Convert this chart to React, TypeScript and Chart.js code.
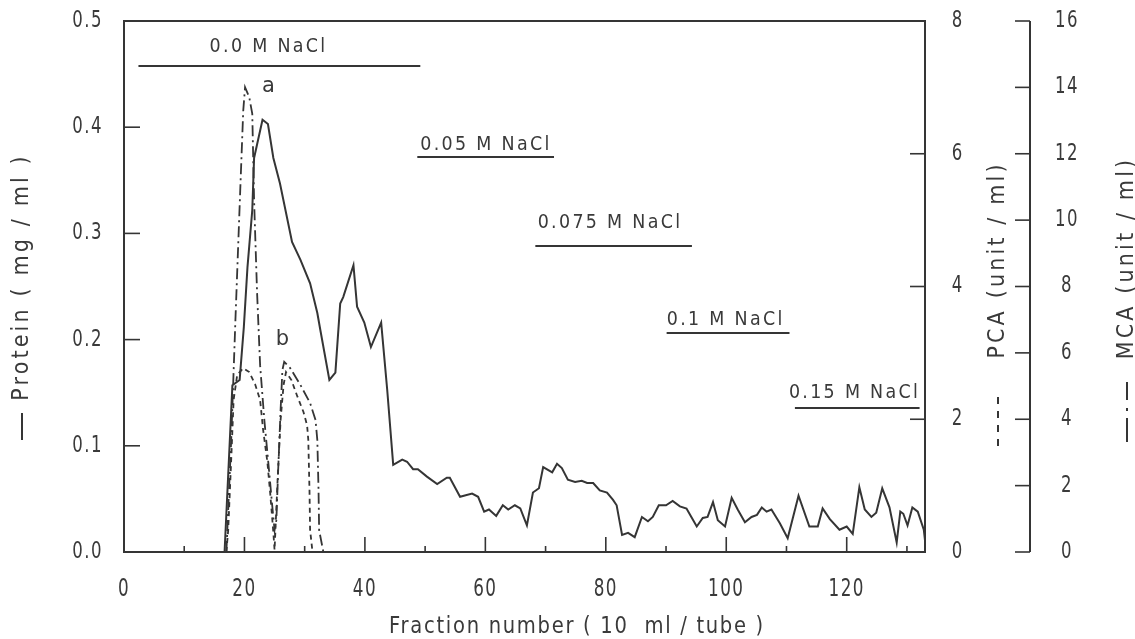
import React, { useEffect, useRef } from "react";
import { Chart, registerables } from "chart.js";

Chart.register(...registerables);

// ---------- data ----------
const proteinFraction = [
  16.7, 18.0, 19.2, 19.9, 20.5, 21.3, 21.6, 23.0, 23.9, 24.8,
  25.9, 27.9, 29.3, 30.9, 32.1, 32.6, 34.1, 35.1, 35.9, 36.4,
  38.1, 38.7, 39.9, 41.0, 42.7, 43.7, 44.7, 46.2, 47.0, 48.0,
  48.8, 50.3, 52.0, 53.6, 54.1, 55.8, 57.8, 58.8, 59.8, 60.6,
  61.8, 62.9, 63.8, 64.9, 65.8, 66.9, 67.9, 68.9, 69.6, 71.1,
  71.9, 72.7, 73.7, 74.9, 76.0, 76.9, 77.9, 79.0, 80.2, 81.2,
  81.8, 82.7, 83.7, 84.8, 86.0, 87.0, 87.8, 88.8, 90.0, 91.1,
  92.3, 93.4, 94.3, 95.1, 96.1, 96.9, 97.8, 98.6, 99.8, 100.9,
  101.9, 103.1, 104.2, 105.1, 105.9, 106.7, 107.5, 108.9, 110.2, 112.0,
  113.8, 115.2, 116.0, 117.2, 118.8, 120.0, 121.0, 122.1, 123.0, 124.1,
  124.9, 125.9, 127.1, 128.3, 128.9, 129.4, 130.1, 130.9, 131.8, 132.8,
  133.0,
];
const proteinValue = [
  0, 0.157, 0.162, 0.212, 0.268, 0.322, 0.371, 0.407, 0.403, 0.371,
  0.347, 0.292, 0.275, 0.253, 0.225, 0.209, 0.162, 0.169, 0.234, 0.240,
  0.270, 0.231, 0.216, 0.193, 0.216, 0.153, 0.082, 0.087, 0.085, 0.078,
  0.078, 0.071, 0.064, 0.070, 0.070, 0.052, 0.055, 0.052, 0.038, 0.040,
  0.034, 0.044, 0.040, 0.044, 0.041, 0.025, 0.056, 0.060, 0.080, 0.075,
  0.083, 0.079, 0.068, 0.066, 0.067, 0.065, 0.065, 0.058, 0.056, 0.049,
  0.044, 0.016, 0.018, 0.014, 0.033, 0.029, 0.033, 0.044, 0.044, 0.048,
  0.043, 0.041, 0.032, 0.024, 0.032, 0.033, 0.047, 0.030, 0.024, 0.051,
  0.040, 0.028, 0.033, 0.035, 0.042, 0.038, 0.040, 0.027, 0.013, 0.053,
  0.024, 0.024, 0.041, 0.031, 0.021, 0.024, 0.017, 0.061, 0.040, 0.033,
  0.037, 0.060, 0.042, 0.009, 0.038, 0.036, 0.025, 0.042, 0.038, 0.021,
  0.011,
];

const pcaFraction = [
  17.0, 17.3, 17.8, 18.2, 18.8, 19.8, 20.8, 21.8, 22.6, 23.1,
  23.8, 24.3, 24.8, 25.0, 25.5, 26.0, 26.5, 26.9, 27.8, 28.8,
  29.8, 30.4, 30.6, 30.8, 30.9, 31.3,
];
const pcaValue = [
  0, 0.33, 1.39, 2.29, 2.67, 2.77, 2.71, 2.52, 2.29, 1.84,
  1.36, 0.86, 0.29, 0.03, 1.08, 1.99, 2.52, 2.71, 2.59, 2.34,
  2.11, 1.91, 1.69, 0.93, 0.33, 0,
];

const mcaFraction = [
  17.0, 17.8, 18.5, 19.3, 19.8, 20.1, 20.8, 21.3, 21.6, 22.1,
  22.6, 23.3, 24.0, 24.6, 25.0, 25.3, 25.6, 26.0, 26.3, 26.6,
  27.6, 29.3, 30.9, 31.8, 32.1, 32.3, 32.4, 33.1,
];
const mcaValue = [
  0, 3.37, 6.99, 10.9, 13.3, 14.0, 13.7, 13.2, 10.6, 7.8,
  5.63, 3.98, 2.62, 1.42, 0.66, 0.96, 2.47, 4.28, 5.48, 5.73,
  5.54, 5.03, 4.49, 3.98, 3.37, 1.87, 0.66, 0,
];

const xTickValues = [0, 20, 40, 60, 80, 100, 120];
const xMinorTicks = [10, 20, 30, 40, 50, 60, 70, 80, 90, 100, 110, 120, 130];
const proteinTicks = [0, 0.1, 0.2, 0.3, 0.4, 0.5];
const pcaTicks = [0, 2, 4, 6, 8];
const mcaTicks = [0, 2, 4, 6, 8, 10, 12, 14, 16];

// NaCl step gradient annotations (fraction range, level on the protein scale)
const saltNames = ["0.0 M NaCl", "0.05 M NaCl", "0.075 M NaCl", "0.1 M NaCl", "0.15 M NaCl"];
const saltStart = [2.4, 48.7, 68.3, 90.1, 111.4];
const saltEnd = [49.2, 71.4, 94.3, 110.5, 132.1];
const saltLevel = [0.4576, 0.3719, 0.2881, 0.2062, 0.1356];
const saltLabelFraction = [24.0, 60.1, 80.7, 99.9, 121.3];
const saltLabelLevel = [0.4755, 0.3832, 0.3098, 0.2185, 0.1497];

const peakNames = ["a", "b"];
const peakFraction = [24.0, 26.3];
const peakLevel = [0.438, 0.1996];

// ---------- styling ----------
const INK = "#353535";
const TEXT = "#3a3a3a";
const FONT = '"DejaVu Sans", sans-serif';

type TextOpts = { size: number; sx?: number; spacing?: number; align?: CanvasTextAlign; rotate?: number };

function drawText(ctx: CanvasRenderingContext2D, text: string, x: number, y: number, o: TextOpts) {
  ctx.save();
  ctx.translate(x, y);
  if (o.rotate) ctx.rotate(o.rotate);
  ctx.scale(o.sx ?? 1, 1);
  ctx.font = `${o.size}px ${FONT}`;
  (ctx as any).letterSpacing = `${o.spacing ?? 0}px`;
  ctx.textAlign = o.align ?? "center";
  ctx.textBaseline = "middle";
  ctx.fillStyle = TEXT;
  ctx.fillText(text, 0, 0);
  ctx.restore();
}

function seg(ctx: CanvasRenderingContext2D, x1: number, y1: number, x2: number, y2: number) {
  ctx.beginPath();
  ctx.moveTo(x1, y1);
  ctx.lineTo(x2, y2);
  ctx.stroke();
}

const decorPlugin = {
  id: "decor",
  afterDraw(chart: any) {
    const ctx: CanvasRenderingContext2D = chart.ctx;
    const { left, right, top, bottom } = chart.chartArea;
    const sx = chart.scales.x;
    const sy = chart.scales.y;
    const sy1 = chart.scales.y1;
    const sy2 = chart.scales.y2;
    ctx.save();
    ctx.strokeStyle = INK;
    ctx.lineWidth = 2;
    ctx.lineCap = "butt";
    ctx.strokeRect(left, top, right - left, bottom - top);

    // x ticks (inside)
    ctx.lineWidth = 1.6;
    xMinorTicks.forEach((v) => {
      const px = sx.getPixelForValue(v);
      const len = v % 20 === 0 ? 15 : 6;
      seg(ctx, px, bottom, px, bottom - len);
    });
    // left ticks
    proteinTicks.forEach((v) => {
      if (v === 0 || v === 0.5) return;
      const py = sy.getPixelForValue(v);
      seg(ctx, left, py, left + 16, py);
    });
    // PCA ticks on right border
    pcaTicks.forEach((v) => {
      if (v === 0 || v === 8) return;
      const py = sy1.getPixelForValue(v);
      seg(ctx, right, py, right - 15, py);
    });
    // MCA separate axis
    const mx = 1030;
    ctx.lineWidth = 2;
    seg(ctx, mx, sy2.getPixelForValue(16), mx, sy2.getPixelForValue(0));
    ctx.lineWidth = 1.6;
    mcaTicks.forEach((v) => {
      const py = sy2.getPixelForValue(v);
      seg(ctx, mx - 15, py, mx, py);
    });

    // tick labels
    xTickValues.forEach((v) => {
      drawText(ctx, String(v), sx.getPixelForValue(v), 590, { size: 24, sx: 0.7, spacing: 2 });
    });
    proteinTicks.forEach((v) => {
      drawText(ctx, v.toFixed(1), 103, sy.getPixelForValue(v), { size: 23, sx: 0.72, spacing: 2, align: "right" });
    });
    pcaTicks.forEach((v) => {
      drawText(ctx, String(v), 957, sy1.getPixelForValue(v), { size: 23, sx: 0.72 });
    });
    mcaTicks.forEach((v) => {
      drawText(ctx, String(v), 1067, sy2.getPixelForValue(v), { size: 23, sx: 0.72, spacing: 2 });
    });

    // axis titles
    drawText(ctx, "Fraction number ( 10  ml / tube )", 577, 627, { size: 23, sx: 0.85, spacing: 2 });
    drawText(ctx, "Protein ( mg / ml )", 22, 277, { size: 23, sx: 0.9, spacing: 3.5, rotate: -Math.PI / 2 });
    ctx.lineWidth = 2;
    seg(ctx, 22, 413, 22, 440);
    drawText(ctx, "PCA (unit / ml)", 998, 260, { size: 23, sx: 0.9, spacing: 3.5, rotate: -Math.PI / 2 });
    ctx.setLineDash([7, 7]);
    seg(ctx, 998, 397, 998, 446);
    drawText(ctx, "MCA (unit / ml)", 1127, 258, { size: 23, sx: 0.9, spacing: 3.5, rotate: -Math.PI / 2 });
    ctx.setLineDash([]);
    seg(ctx, 1127, 382, 1127, 400);
    seg(ctx, 1127, 408, 1127, 411);
    seg(ctx, 1127, 418, 1127, 442);

    // annotations
    saltNames.forEach((name, i) => {
      drawText(ctx, name, sx.getPixelForValue(saltLabelFraction[i]), sy.getPixelForValue(saltLabelLevel[i]), {
        size: 19,
        sx: 0.92,
        spacing: 2.5,
      });
    });
    peakNames.forEach((name, i) => {
      drawText(ctx, name, sx.getPixelForValue(peakFraction[i]), sy.getPixelForValue(peakLevel[i]), { size: 21 });
    });
    ctx.restore();
  },
};

export default function App() {
  const ref = useRef<HTMLCanvasElement | null>(null);
  useEffect(() => {
    if (!ref.current) return;
    const toPts = (xs: number[], ys: number[]) => xs.map((x, i) => ({ x, y: ys[i] }));
    const saltSets = saltNames.map((name, i) => ({
      label: name,
      data: [
        { x: saltStart[i], y: saltLevel[i] },
        { x: saltEnd[i], y: saltLevel[i] },
      ],
      yAxisID: "y",
      borderColor: INK,
      borderWidth: 2,
      pointRadius: 0,
    }));
    const chart = new Chart(ref.current, {
      type: "line",
      data: {
        datasets: [
          {
            label: "Protein",
            data: toPts(proteinFraction, proteinValue),
            yAxisID: "y",
            borderColor: INK,
            borderWidth: 2,
            pointRadius: 0,
          },
          {
            label: "PCA",
            data: toPts(pcaFraction, pcaValue),
            yAxisID: "y1",
            borderColor: INK,
            borderWidth: 1.8,
            borderDash: [5, 4],
            pointRadius: 0,
          },
          {
            label: "MCA",
            data: toPts(mcaFraction, mcaValue),
            yAxisID: "y2",
            borderColor: INK,
            borderWidth: 1.8,
            borderDash: [11, 4, 2, 4],
            pointRadius: 0,
          },
          ...saltSets,
        ] as any,
      },
      options: {
        responsive: false,
        animation: false,
        devicePixelRatio: 1,
        layout: { padding: { left: 124, top: 21, right: 210, bottom: 87 } },
        plugins: { legend: { display: false }, tooltip: { enabled: false } },
        elements: { point: { radius: 0 }, line: { tension: 0 } },
        scales: {
          x: { type: "linear", min: 0, max: 133, display: false },
          y: { min: 0, max: 0.5, display: false },
          y1: { min: 0, max: 8, display: false, position: "right" },
          y2: { min: 0, max: 16, display: false, position: "right" },
        },
      },
      plugins: [decorPlugin],
    });
    return () => chart.destroy();
  }, []);
  return (
    <div style={{ position: "fixed", left: 0, top: 0, width: 1135, height: 639, background: "#fff" }}>
      <canvas ref={ref} width={1135} height={639} style={{ display: "block" }} />
    </div>
  );
}
